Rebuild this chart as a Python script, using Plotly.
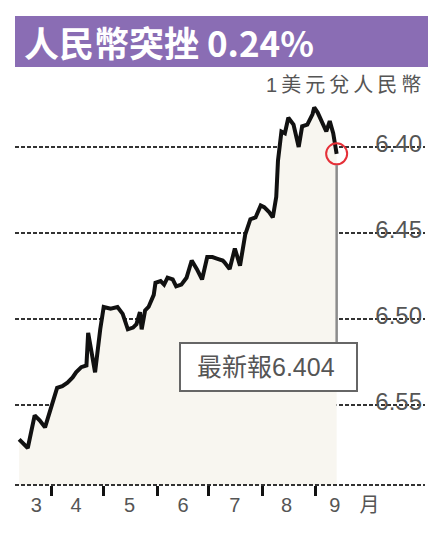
import plotly.graph_objects as go
import pandas as pd

# ---- data ----
dates = ["2011-03-13","2011-03-18","2011-03-22","2011-03-25","2011-03-28","2011-03-31",
         "2011-04-03","2011-04-04","2011-04-07","2011-04-10","2011-04-13","2011-04-15",
         "2011-04-18","2011-04-21","2011-04-22","2011-04-25","2011-04-26","2011-04-29",
         "2011-05-01","2011-05-05","2011-05-09","2011-05-12","2011-05-15","2011-05-18",
         "2011-05-20","2011-05-22","2011-05-23","2011-05-25","2011-05-27","2011-05-30",
         "2011-05-31","2011-06-03","2011-06-05","2011-06-07","2011-06-10","2011-06-12",
         "2011-06-15","2011-06-18","2011-06-21","2011-06-24","2011-06-27","2011-06-30",
         "2011-07-03","2011-07-06","2011-07-09","2011-07-10","2011-07-13","2011-07-16",
         "2011-07-19","2011-07-22","2011-07-25","2011-07-28","2011-07-31","2011-08-02",
         "2011-08-05","2011-08-07","2011-08-09","2011-08-10","2011-08-12","2011-08-14",
         "2011-08-16","2011-08-19","2011-08-22","2011-08-24","2011-08-27","2011-08-30",
         "2011-08-31","2011-09-02","2011-09-05","2011-09-07","2011-09-09","2011-09-11",
         "2011-09-12","2011-09-13"]
usd_cny = [6.570,6.575,6.556,6.559,6.563,6.553,
           6.542,6.540,6.539,6.537,6.534,6.531,
           6.528,6.527,6.508,6.528,6.531,6.506,
           6.493,6.494,6.493,6.497,6.506,6.505,
           6.503,6.496,6.506,6.495,6.493,6.486,
           6.479,6.478,6.480,6.476,6.477,6.481,
           6.480,6.476,6.466,6.471,6.477,6.464,
           6.464,6.465,6.466,6.467,6.471,6.459,
           6.469,6.451,6.442,6.441,6.434,6.435,
           6.438,6.441,6.429,6.408,6.391,6.392,
           6.383,6.387,6.400,6.388,6.387,6.381,
           6.377,6.380,6.386,6.391,6.385,6.392,
           6.398,6.404]
y_ticks = [6.40, 6.45, 6.50, 6.55]
y_tick_text = ["6.40", "6.45", "6.50", "6.55"]
month_starts = ["2011-04-01","2011-05-01","2011-06-01","2011-07-01","2011-08-01","2011-09-01"]
month_label_pos = ["2011-03-23","2011-04-15","2011-05-16","2011-06-16","2011-07-16","2011-08-15","2011-09-12","2011-10-02"]
month_labels = ["3","4","5","6","7","8","9","月"]
title_text = "人民幣突挫 0.24%"
unit_text = "1美元兌人民幣"
latest_text = "最新報6.404"

# page body has an 8px margin; size the figure so it fills the 444x540 window
OFF = 8
W, H = 444 - OFF, 540 - OFF
FONT = "Liberation Sans, Noto Sans CJK TC, sans-serif"
GRAY = "#555555"
RED = "#e53038"

def fx(px):
    return (px - OFF) / W

def fy(py):
    return (H - (py - OFF)) / H

y_bottom, y_top = 6.5965, 6.3727
x_start = pd.Timestamp("2011-04-01") - pd.Timedelta(days=21.4)
x_end = pd.Timestamp("2011-04-01") + pd.Timedelta(days=216.2)
xr = [x_start, x_end]

fig = go.Figure()
# baseline for fill
fig.add_trace(go.Scatter(x=dates, y=[y_bottom] * len(dates), mode="lines",
                         line=dict(width=0, color="rgba(0,0,0,0)"),
                         hoverinfo="skip", showlegend=False))
fig.add_trace(go.Scatter(x=dates, y=usd_cny, mode="lines", fill="tonexty",
                         fillcolor="#f8f6f0", line=dict(color="#111111", width=4),
                         showlegend=False))
# month label axis (overlay)
fig.add_trace(go.Scatter(x=[dates[0]], y=[usd_cny[0]], xaxis="x2", mode="markers",
                         marker=dict(opacity=0), hoverinfo="skip", showlegend=False))
# latest point circle
fig.add_trace(go.Scatter(x=[dates[-1]], y=[usd_cny[-1]], mode="markers",
                         marker=dict(symbol="circle-open", size=21, color=RED,
                                     line=dict(color=RED, width=2)),
                         showlegend=False))

x_dom = [fx(15), fx(425)]
y_dom = [fy(485), fy(100)]

def py_to_val(py):
    # convert a pixel row to a data value (layout helper for callout)
    top_px, bot_px = 100, 485
    return y_top + (py - top_px) / (bot_px - top_px) * (y_bottom - y_top)

fig.update_layout(
    width=W, height=H, margin=dict(l=0, r=0, t=0, b=0),
    paper_bgcolor="white", plot_bgcolor="white",
    font=dict(family=FONT, color=GRAY),
    xaxis=dict(domain=x_dom, range=xr, type="date", showgrid=False, zeroline=False,
               showline=False, tickvals=month_starts, ticks="outside", ticklen=10,
               tickwidth=3, tickcolor="#111111", showticklabels=False),
    xaxis2=dict(overlaying="x", anchor="y", side="bottom", domain=x_dom, range=xr,
                type="date", showgrid=False, zeroline=False, showline=False,
                tickvals=month_label_pos, ticktext=month_labels, ticks="outside",
                ticklen=2, tickcolor="rgba(0,0,0,0)",
                tickfont=dict(size=20, color=GRAY, family=FONT)),
    yaxis=dict(domain=y_dom, range=[y_bottom, y_top], side="right",
               tickvals=y_ticks, ticktext=y_tick_text, ticklabelposition="inside",
               ticks="", showgrid=True, gridcolor="#333333", gridwidth=2,
               griddash="4px,2px", zeroline=False, showline=False,
               tickfont=dict(size=24, color=GRAY, family=FONT), ticklabelshift=3),
    shapes=[
        # title bar
        dict(type="rect", xref="paper", yref="paper", x0=fx(15), x1=fx(428),
             y0=fy(67), y1=fy(16), fillcolor="#8a6db4", line=dict(width=0),
             layer="below"),
        # bottom dotted axis line
        dict(type="line", xref="x domain", yref="y domain", x0=0, x1=1, y0=0, y1=0,
             line=dict(color="#333333", width=2, dash="4px,2px")),
        # callout leader line
        dict(type="line", xref="x", yref="y", x0=dates[-1], x1=dates[-1],
             y0=usd_cny[-1] + 0.0065, y1=py_to_val(343),
             line=dict(color="#8c8c8c", width=2.5)),
        # callout box
        dict(type="rect", xref="paper", yref="paper", x0=fx(180), x1=fx(357),
             y0=fy(391), y1=fy(343), fillcolor="white",
             line=dict(color="#666666", width=2)),
    ],
    annotations=[
        dict(text=f"<b>{title_text}</b>", xref="paper", yref="paper", x=fx(22),
             y=fy(41.5), xanchor="left", yanchor="middle", showarrow=False,
             font=dict(size=35, color="white", family="Noto Sans CJK TC, sans-serif")),
        dict(text="\u2009".join(unit_text), xref="paper", yref="paper", x=fx(423), y=fy(85),
             xanchor="right", yanchor="middle", showarrow=False,
             font=dict(size=20, color=GRAY, family=FONT)),
        dict(text=latest_text, xref="paper", yref="paper", x=fx(266), y=fy(367),
             xanchor="center", yanchor="middle", showarrow=False,
             font=dict(size=25, color=GRAY, family=FONT)),
    ],
)

fig.write_html("out.html")
